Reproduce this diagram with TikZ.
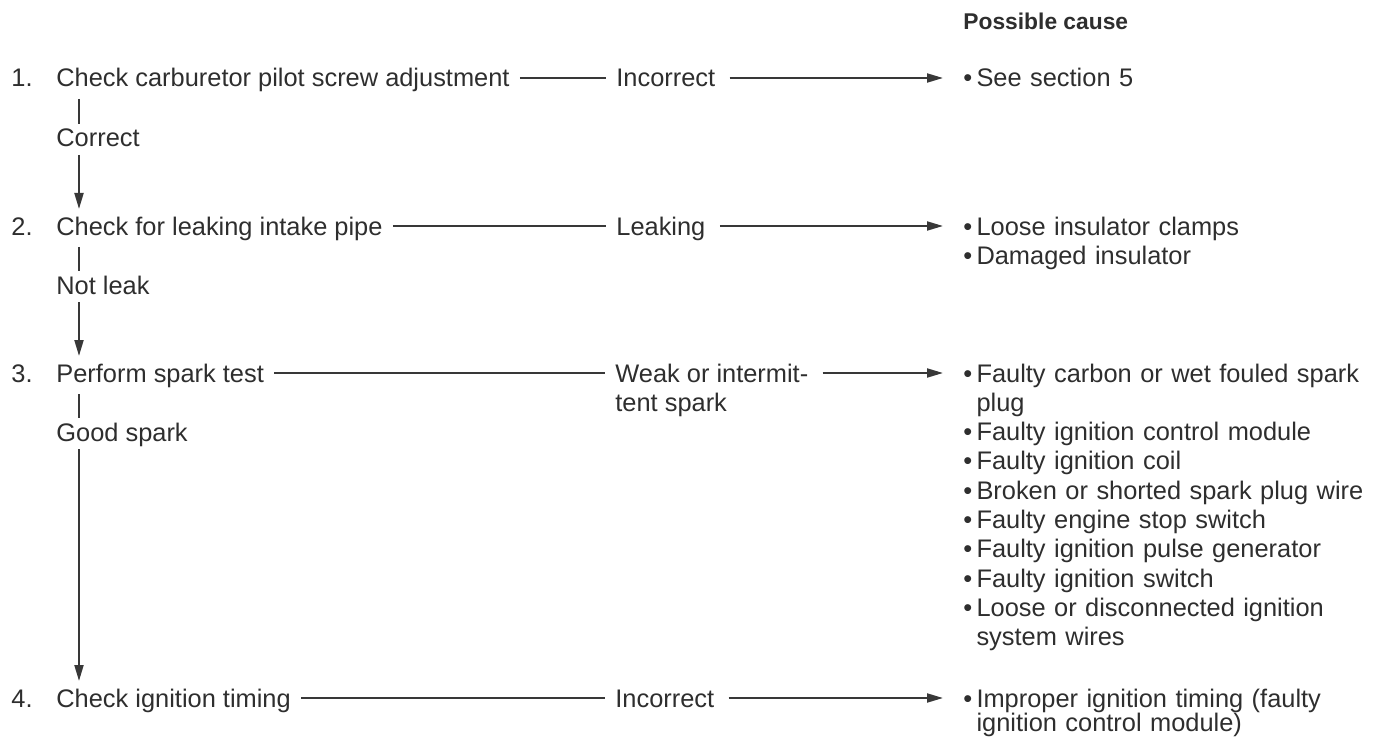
\documentclass[tikz,border=0pt]{standalone}
\usepackage{fontspec}
\setmainfont{Liberation Sans}
\usepackage{tikz}
\usetikzlibrary{arrows.meta,positioning}
\definecolor{inkgray}{HTML}{2E2E2E}
\definecolor{linegray}{HTML}{383838}
\newcommand\cbul{\textbullet\,}
\newcommand\cntd{\phantom{\textbullet\,}}

\begin{document}
\begin{tikzpicture}[x=0.5pt,y=-0.5pt,
  txt/.style={inner sep=0pt,anchor=base west,text=inkgray,font=\fontsize{12.7}{14.65}\selectfont,text height=9pt,text depth=0pt},
  num/.style={txt,anchor=east},
  cause/.style={inner sep=0pt,anchor=base west,text=inkgray,font=\fontsize{12.7}{14.65}\selectfont,text width=205pt,align=left},
  headtxt/.style={inner sep=0pt,anchor=base west,text=inkgray,font=\fontsize{11.4}{13.7}\selectfont\bfseries},
  ln/.style={draw=linegray,line width=1pt},
  arr/.style={ln,-{Triangle[length=8pt,width=4.5pt]}}
]
\useasboundingbox (0,0) rectangle (1378,738);
\node[headtxt] (head) at (963,30) {Possible cause};
% steps
\node[txt] (chk1) at (56,87) {Check carburetor pilot screw adjustment};
\node[txt] (chk2) at (56,235) {Check for leaking intake pipe};
\node[txt] (chk3) at (56,382) {Perform spark test};
\node[txt] (chk4) at (56,707) {Check ignition timing};
\node[num,left=11.5pt of chk1] (n1) {1.};
\node[num,left=11.5pt of chk2] (n2) {2.};
\node[num,left=11.5pt of chk3] (n3) {3.};
\node[num,left=11.5pt of chk4] (n4) {4.};
\node[txt] (ok1) at (56,147) {Correct};
\node[txt] (ok2) at (56,294) {Not leak};
\node[txt] (ok3) at (56,441) {Good spark};
% results
\node[txt] (res1) at (616,87) {Incorrect};
\node[txt] (res2) at (616,235) {Leaking};
\node[txt] (res3) at (615,382) {Weak or intermit-};
\node[txt] (res3b) at (615,411) {tent spark};
\node[txt] (res4) at (615,707) {Incorrect};
% causes
\node[cause] (cause1) at (963,87) {\cbul See section 5};
\node[cause] (cause2) at (963,235) {\cbul Loose insulator clamps\\\cbul Damaged insulator};
\node[cause] (cause3) at (963,382) {\cbul Faulty carbon or wet fouled spark\\\cntd plug\\
  \cbul Faulty ignition control module\\\cbul Faulty ignition coil\\
  \cbul Broken or shorted spark plug wire\\\cbul Faulty engine stop switch\\
  \cbul Faulty ignition pulse generator\\\cbul Faulty ignition switch\\
  \cbul Loose or disconnected ignition\\\cntd system wires};
\node[cause] (cause4) at (963,707) {\cbul Improper ignition timing (faulty\\[-2.5pt]\cntd ignition control module)};
% down the left
\draw[ln] ([xshift=11.5pt,yshift=-6pt]chk1.base west) -- ([xshift=11.5pt,yshift=11.5pt]ok1.base west);
\draw[arr] ([xshift=11.5pt,yshift=-4pt]ok1.base west) -- ([xshift=11.5pt,yshift=13pt]chk2.base west);
\draw[ln] ([xshift=11.5pt,yshift=-6pt]chk2.base west) -- ([xshift=11.5pt,yshift=11.5pt]ok2.base west);
\draw[arr] ([xshift=11.5pt,yshift=-4pt]ok2.base west) -- ([xshift=11.5pt,yshift=13pt]chk3.base west);
\draw[ln] ([xshift=11.5pt,yshift=-6pt]chk3.base west) -- ([xshift=11.5pt,yshift=11.5pt]ok3.base west);
\draw[arr] ([xshift=11.5pt,yshift=-4pt]ok3.base west) -- ([xshift=11.5pt,yshift=13pt]chk4.base west);
% across
\draw[ln,shorten <=5pt,shorten >=5pt] (chk1) -- (res1);
\draw[ln,shorten <=5pt,shorten >=5pt] (chk2) -- (res2);
\draw[ln,shorten <=5pt,shorten >=5pt] (chk3) -- (res3);
\draw[ln,shorten <=5pt,shorten >=5pt] (chk4) -- (res4);
\draw[arr,shorten <=7pt,shorten >=10pt] (res1) -- (res1 -| cause1.west);
\draw[arr,shorten <=7pt,shorten >=10pt] (res2) -- (res2 -| cause2.west);
\draw[arr,shorten <=7pt,shorten >=10pt] (res3) -- (res3 -| cause3.west);
\draw[arr,shorten <=7pt,shorten >=10pt] (res4) -- (res4 -| cause4.west);
\end{tikzpicture}
\end{document}
